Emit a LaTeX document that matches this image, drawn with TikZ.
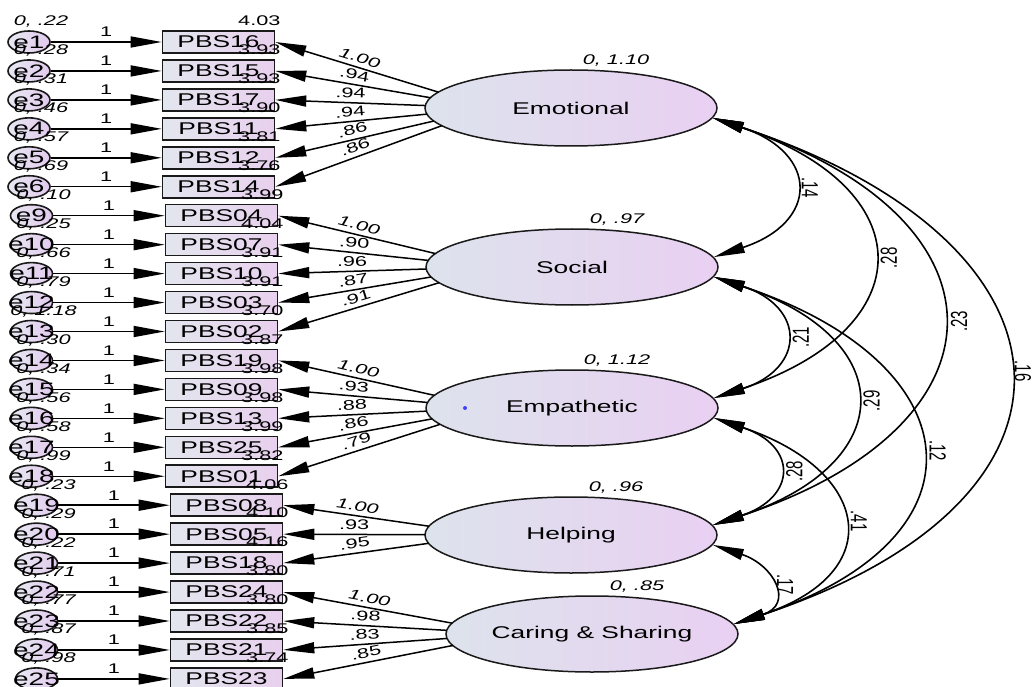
\documentclass[tikz,border=0pt]{standalone}
\usepackage{fontspec}
\usepackage{graphicx}
\setmainfont[FakeStretch=1.55]{Liberation Sans}
\newfontfamily\plainsans{Liberation Sans}
\usetikzlibrary{arrows.meta,intersections,shapes.geometric}
\definecolor{boxL}{HTML}{E3E6EE}
\definecolor{boxR}{HTML}{E8D0EE}
\definecolor{latL}{HTML}{DDE3EC}
\definecolor{latR}{HTML}{E9D0F2}
\definecolor{errL}{HTML}{E8E8F2}
\definecolor{errR}{HTML}{E2CAEE}
\definecolor{edge}{HTML}{1A1A1A}
\begin{document}
\begin{tikzpicture}[x=1pt,y=-1pt,
  obs/.style={draw=edge, line width=1.6pt, left color=boxL, right color=boxR, minimum width=112pt, minimum height=22pt, inner sep=0pt, font=\fontsize{17}{19}\selectfont},
  err/.style={ellipse, draw=edge, line width=1.6pt, left color=errL, right color=errR, minimum width=42pt, minimum height=22pt, inner sep=0pt},
  lat/.style={ellipse, draw=edge, line width=1.5pt, left color=latL, right color=latR, minimum width=292pt, minimum height=76pt, inner sep=0pt},
  big/.style={font=\fontsize{17}{19}\selectfont},
  ebig/.style={font=\fontsize{18}{20}\selectfont},
  lbl/.style={font=\fontsize{14}{16}\selectfont, inner sep=1pt},
  ilbl/.style={font=\fontsize{14}{16}\selectfont\itshape, inner sep=1pt},
  tipA/.tip={Triangle[length=31pt,width=11pt]},
  arr/.style={line width=1.5pt, -tipA},
  larr/.style={line width=1.5pt, tipA-},
  cov/.style={line width=1.6pt, tipA-tipA},
  covl/.style={font=\fontsize{15}{17}\plainsans, inner sep=1pt},
  load/.style={lbl, sloped, above=3pt}
]
\useasboundingbox (0,0) rectangle (1036,687);
\def\rows{0/PBS16/4.03/1/.22/218.5/29, 1/PBS15/3.93/2/.28/218.5/29, 2/PBS17/3.93/3/.31/218.5/29, 3/PBS11/3.90/4/.46/218.5/29, 4/PBS12/3.81/5/.57/218.5/29, 5/PBS14/3.76/6/.69/218.5/29, 6/PBS04/3.99/9/.10/221.5/31.5, 7/PBS07/4.04/10/.25/221.5/31.5, 8/PBS10/3.91/11/.66/221.5/31.5, 9/PBS03/3.91/12/.79/221.5/31.5, 10/PBS02/3.70/13/1.18/221.5/31.5, 11/PBS19/3.87/14/.30/221.5/31.5, 12/PBS09/3.98/15/.34/221.5/31.5, 13/PBS13/3.98/16/.56/221.5/31.5, 14/PBS25/3.99/17/.58/221.5/31.5, 15/PBS01/3.82/18/.99/221.5/31.5, 16/PBS08/4.06/19/.23/226.5/36.5, 17/PBS05/4.10/20/.29/226.5/36.5, 18/PBS18/4.16/21/.22/226.5/36.5, 19/PBS24/3.80/22/.71/226.5/36.5, 20/PBS22/3.80/23/.77/226.5/36.5, 21/PBS21/3.85/24/.87/226.5/36.5, 22/PBS23/3.74/25/.98/226.5/36.5}
% observed variables and errors
\foreach \i/\lab/\mean/\e/\var/\bx/\ex in \rows {
  \pgfmathsetmacro\yy{42+28.95*\i}
  \node[obs] (b\i) at (\bx,\yy) {\lab};
  \node[err, label={[ebig]center:e\e}] (e\e) at (\ex,\yy) {};
}
% latent variables
\node[lat, label={[big]center:Emotional}] (Emo) at (571,108) {};
\node[lat, label={[big]center:Social}] (Soc) at (572,267) {};
\node[lat, label={[big]center:Empathetic}] (Emp) at (572,408) {};
\node[lat, label={[big]center:Helping}] (Help) at (571,535) {};
\node[lat, label={[big]center:Caring \& Sharing}] (Car) at (592,634) {};
\fill[blue!75!white] (465,408) circle (2pt);
\foreach \n in {Emo,Soc,Emp,Help,Car} {
  \path[name path global=\n-p] (\n.center) ellipse [x radius=146pt, y radius=38pt];
  \coordinate (\n-aim) at ([xshift=-81pt]\n.center);
}
% error arrows and labels
\foreach \i/\lab/\mean/\e/\var/\bx/\ex in \rows {
  \draw[arr] (e\e) -- node[lbl, midway, yshift=10pt] {1} (b\i);
  \node[lbl] at ([xshift=-16pt,yshift=21pt]b\i.east) {\mean};
  \node[ilbl] at ([xshift=12pt,yshift=20pt]e\e.center) {0, \var};
}
% loadings
\foreach \b/\f/\l in {0/Emo/{\itshape 1.00},1/Emo/.94,2/Emo/.94,3/Emo/.94,4/Emo/.86,5/Emo/.86,6/Soc/{\itshape 1.00},7/Soc/.90,8/Soc/.96,9/Soc/.87,10/Soc/.91,11/Emp/{\itshape 1.00},12/Emp/.93,13/Emp/.88,14/Emp/.86,15/Emp/.79,16/Help/{\itshape 1.00},17/Help/.93,18/Help/.95,19/Car/{\itshape 1.00},20/Car/.98,21/Car/.83,22/Car/.85} {
  \path[name path=tmp] (b\b.east) -- (\f-aim);
  \path[name intersections={of=\f-p and tmp, by=s}];
  \draw[larr] (b\b.east) -- node[load, midway] {\l} (s);
}
% latent variances
\foreach \n/\v in {Emo/{0, 1.10},Soc/{0, .97},Emp/{0, 1.12},Help/{0, .96},Car/{0, .85}} {
  \node[ilbl] at ([xshift=45pt,yshift=47pt]\n.center) {\v};
}
% covariances
\draw[cov] (Emo.-4) .. controls +(106,35) and +(106,-35) .. (Soc.4) node[pos=.5, xshift=17pt, rotate=-90, covl] {\scalebox{1}[1.55]{.14}};
\draw[cov] (Emo.-4) .. controls +(210,70) and +(210,-70) .. (Emp.4) node[pos=.5, xshift=18pt, rotate=90, covl] {\scalebox{1}[1.55]{.28}};
\draw[cov] (Emo.-4) .. controls +(303,100) and +(303,-100) .. (Help.4) node[pos=.5, xshift=19pt, rotate=90, covl] {\scalebox{1}[1.55]{.23}};
\draw[cov] (Emo.-4) .. controls +(378,125) and +(378,-125) .. (Car.4) node[pos=.5, xshift=16pt, rotate=-90, covl] {\scalebox{1}[1.55]{.16}};
\draw[cov] (Soc.-4) .. controls +(92,30) and +(92,-30) .. (Emp.4) node[pos=.5, xshift=18pt, rotate=90, covl] {\scalebox{1}[1.55]{.21}};
\draw[cov] (Soc.-4) .. controls +(187,62) and +(187,-62) .. (Help.4) node[pos=.5, xshift=18pt, rotate=90, covl] {\scalebox{1}[1.55]{.29}};
\draw[cov] (Soc.-4) .. controls +(260,86) and +(260,-86) .. (Car.4) node[pos=.5, xshift=19pt, rotate=-90, covl] {\scalebox{1}[1.55]{.12}};
\draw[cov] (Emp.-4) .. controls +(84,28) and +(84,-28) .. (Help.4) node[pos=.5, xshift=18pt, rotate=90, covl] {\scalebox{1}[1.55]{.28}};
\draw[cov] (Emp.-4) .. controls +(156,52) and +(156,-52) .. (Car.4) node[pos=.5, xshift=18pt, rotate=-90, covl] {\scalebox{1}[1.55]{.41}};
\draw[cov] (Help.-4) .. controls +(61,20) and +(61,-20) .. (Car.4) node[pos=.5, xshift=16pt, rotate=-90, covl] {\scalebox{1}[1.55]{.17}};
\end{tikzpicture}
\end{document}
